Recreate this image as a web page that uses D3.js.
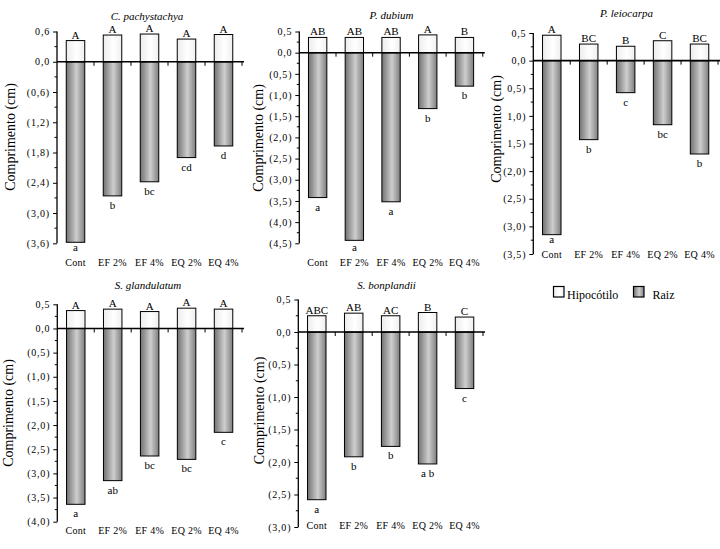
<!DOCTYPE html>
<html><head><meta charset="utf-8">
<script src="https://cdn.jsdelivr.net/npm/d3@7"></script>
<style>body{margin:0;background:#fff}svg{display:block}svg text{font-family:"Liberation Serif",serif !important;fill:#000}</style>
</head><body>
<script>
const categories = ["Cont","EF 2%","EF 4%","EQ 2%","EQ 4%"];
const species = ["C. pachystachya","P. dubium","P. leiocarpa","S. glandulatum","S. bonplandii"];

const hipCp = [0.42,0.53,0.55,0.45,0.54];
const raizCp = [-3.58,-2.66,-2.38,-1.90,-1.67];
const upCp = ["A","A","A","A","A"];
const lowCp = ["a","b","bc","cd","d"];
const ticksCp = [0.6,0,-0.6,-1.2,-1.8,-2.4,-3.0,-3.6];
const tickLabCp = ["0,6","0,0","(0,6)","(1,2)","(1,8)","(2,4)","(3,0)","(3,6)"];

const hipPd = [0.36,0.36,0.36,0.42,0.36];
const raizPd = [-3.42,-4.43,-3.52,-1.32,-0.79];
const upPd = ["AB","AB","AB","A","B"];
const lowPd = ["a","a","a","b","b"];
const ticksPd = [0.5,0,-0.5,-1,-1.5,-2,-2.5,-3,-3.5,-4,-4.5];
const tickLabPd = ["0,5","0,0","(0,5)","(1,0)","(1,5)","(2,0)","(2,5)","(3,0)","(3,5)","(4,0)","(4,5)"];

const hipPl = [0.46,0.30,0.26,0.36,0.30];
const raizPl = [-3.15,-1.43,-0.58,-1.16,-1.69];
const upPl = ["A","BC","B","C","BC"];
const lowPl = ["a","b","c","bc","b"];
const ticksPl = [0.5,0,-0.5,-1,-1.5,-2,-2.5,-3,-3.5];
const tickLabPl = ["0,5","0,0","0,5)","1,0)","1,5)","(2,0)","(2,5)","(3,0)","(3,5)"];

const hipSg = [0.37,0.40,0.35,0.42,0.40];
const raizSg = [-3.64,-3.15,-2.64,-2.71,-2.15];
const upSg = ["A","A","A","A","A"];
const lowSg = ["a","ab","bc","bc","c"];
const ticksSg = [0.5,0,-0.5,-1,-1.5,-2,-2.5,-3,-3.5,-4];
const tickLabSg = ["0,5","0,0","(0,5)","(1,0)","(1,5)","(2,0)","(2,5)","(3,0)","(3,5)","(4,0)"];

const hipSb = [0.25,0.29,0.25,0.30,0.23];
const raizSb = [-2.58,-1.92,-1.76,-2.03,-0.87];
const upSb = ["ABC","AB","AC","B","C"];
const lowSb = ["a","b","b","a b","c"];
const ticksSb = [0.5,0,-0.5,-1,-1.5,-2,-2.5,-3];
const tickLabSb = ["0,5","0,0","(0,5)","(1,0)","(1,5)","(2,0)","(2,5)","(3,0)"];

const legendLabels = ["Hipocótilo","Raiz"];
const yTitle = "Comprimento (cm)";

const panels = [
  {name:species[0],hip:hipCp,raiz:raizCp,up:upCp,low:lowCp,ticks:ticksCp,tl:tickLabCp,
   L:57,R:242,yT:31.5,yB:243.3,tx:147,ty:20,lx:10,ly:137,xly:266},
  {name:species[1],hip:hipPd,raiz:raizPd,up:upPd,low:lowPd,ticks:ticksPd,tl:tickLabPd,
   L:299.3,R:482.8,yT:31.5,yB:243.3,tx:391.5,ty:19,lx:257.5,ly:138,xly:266},
  {name:species[2],hip:hipPl,raiz:raizPl,up:upPl,low:lowPl,ticks:ticksPl,tl:tickLabPl,
   L:533.3,R:718,yT:33,yB:254,tx:626.5,ty:17,lx:496,ly:129,xly:258},
  {name:species[3],hip:hipSg,raiz:raizSg,up:upSg,low:lowSg,ticks:ticksSg,tl:tickLabSg,
   L:57.3,R:242,yT:304.3,yB:521.7,tx:148,ty:289,lx:8,ly:413,xly:534},
  {name:species[4],hip:hipSb,raiz:raizSb,up:upSb,low:lowSb,ticks:ticksSb,tl:tickLabSb,
   L:298.3,R:483,yT:299.5,yB:527,tx:386.5,ty:289,lx:258.5,ly:410.5,xly:529}
];

const svg = d3.select("body").append("svg").attr("width",720).attr("height",549)
  .attr("font-family","Liberation Serif");
const defs = svg.append("defs");
const gR = defs.append("linearGradient").attr("id","gRaiz").attr("x1","0").attr("x2","1").attr("y1","0").attr("y2","0");
gR.append("stop").attr("offset","0%").attr("stop-color","#727272");
gR.append("stop").attr("offset","55%").attr("stop-color","#cecece");
gR.append("stop").attr("offset","100%").attr("stop-color","#7e7e7e");
const gH = defs.append("linearGradient").attr("id","gHip").attr("x1","0").attr("x2","1").attr("y1","0").attr("y2","0");
gH.append("stop").attr("offset","0%").attr("stop-color","#ececec");
gH.append("stop").attr("offset","55%").attr("stop-color","#ffffff");
gH.append("stop").attr("offset","100%").attr("stop-color","#efefef");

panels.forEach(p => {
  const g = svg.append("g");
  const top = p.ticks[0], bot = p.ticks[p.ticks.length-1];
  const y = d3.scaleLinear().domain([top,bot]).range([p.yT,p.yB]);
  const x = d3.scaleBand().domain(categories).range([p.L,p.R]).paddingInner(0.5).paddingOuter(0.25);
  const step = x.step();

  g.selectAll(".raiz").data(categories).join("rect")
    .attr("x",d=>x(d)).attr("width",x.bandwidth())
    .attr("y",y(0)).attr("height",(d,i)=>y(p.raiz[i])-y(0))
    .attr("fill","url(#gRaiz)").attr("stroke","#000").attr("stroke-width",1);
  g.selectAll(".hip").data(categories).join("rect")
    .attr("x",d=>x(d)).attr("width",x.bandwidth())
    .attr("y",(d,i)=>y(p.hip[i])).attr("height",(d,i)=>y(0)-y(p.hip[i]))
    .attr("fill","url(#gHip)").attr("stroke","#000").attr("stroke-width",1);

  g.append("line").attr("x1",p.L).attr("x2",p.R+2).attr("y1",y(0)).attr("y2",y(0))
    .attr("stroke","#000").attr("stroke-width",1.6);
  for(let k=1;k<=categories.length;k++){
    g.append("line").attr("x1",p.L+k*step).attr("x2",p.L+k*step)
      .attr("y1",y(0)).attr("y2",y(0)+4).attr("stroke","#000").attr("stroke-width",1);
  }

  const ax = d3.axisLeft(y).tickValues(p.ticks).tickSize(4).tickPadding(3)
    .tickFormat((d,i)=>p.tl[i]);
  const ag = g.append("g").attr("transform",`translate(${p.L},0)`).call(ax);
  ag.attr("font-family","Liberation Serif").attr("font-size",10);
  ag.select(".domain").attr("stroke","#000").attr("stroke-width",1.3).attr("d",`M0,${p.yT}V${p.yB}`);
  ag.selectAll(".tick line").attr("stroke","#000");
  ag.selectAll(".tick text").attr("fill","#000").attr("letter-spacing","0.8px");
  for(let i=0;i<p.ticks.length-1;i++){
    const m = (p.ticks[i]+p.ticks[i+1])/2;
    g.append("line").attr("x1",p.L-2.5).attr("x2",p.L).attr("y1",y(m)).attr("y2",y(m))
      .attr("stroke","#000").attr("stroke-width",1);
  }

  g.selectAll(".up").data(categories).join("text")
    .attr("x",d=>x(d)+x.bandwidth()/2).attr("y",(d,i)=>y(p.hip[i])-2)
    .attr("text-anchor","middle").attr("font-size",11).text((d,i)=>p.up[i]);
  g.selectAll(".low").data(categories).join("text")
    .attr("x",d=>x(d)+x.bandwidth()/2).attr("y",(d,i)=>Math.min(y(p.raiz[i])+13, p.xly-15))
    .attr("text-anchor","middle").attr("font-size",11).text((d,i)=>p.low[i]);

  g.selectAll(".cat").data(categories).join("text")
    .attr("x",d=>x(d)+x.bandwidth()/2).attr("y",p.xly)
    .attr("text-anchor","middle").attr("font-size",10).attr("letter-spacing","0.3px").text(d=>d);

  g.append("text").attr("x",p.tx).attr("y",p.ty).attr("text-anchor","middle")
    .attr("font-size",11).attr("font-style","italic").text(p.name);
  g.append("text").attr("transform",`translate(${p.lx+5},${p.ly}) rotate(-90)`)
    .attr("text-anchor","middle").attr("font-size",14).text(yTitle);
});

const lg = svg.append("g");
const lx = d3.scaleOrdinal().domain(legendLabels).range([553.5,633.5]);
const lfill = d3.scaleOrdinal().domain(legendLabels).range(["url(#gHip)","url(#gRaiz)"]);
const ltx = d3.scaleOrdinal().domain(legendLabels).range([567,652.5]);
lg.selectAll("rect").data(legendLabels).join("rect")
  .attr("x",d=>lx(d)).attr("y",286.5).attr("width",10.5).attr("height",10.5)
  .attr("fill",d=>lfill(d)).attr("stroke","#000").attr("stroke-width",1.2);
lg.selectAll("text").data(legendLabels).join("text")
  .attr("x",d=>ltx(d)).attr("y",299).attr("font-size",12).text(d=>d);
</script>
</body></html>
